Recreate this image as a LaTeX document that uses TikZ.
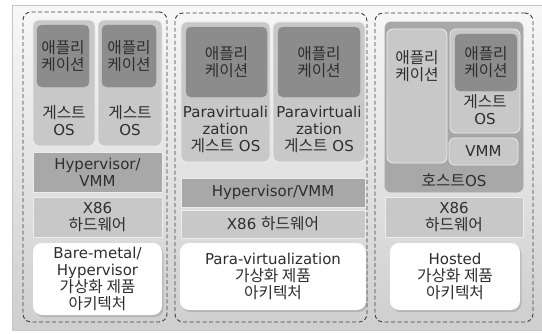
\documentclass[tikz,border=0pt]{standalone}
\usepackage{fontspec}
\setmainfont{DejaVu Sans}
\newfontfamily\kr[Scale=1.05]{Noto Sans CJK KR}
\usetikzlibrary{shadows}
\definecolor{appgray}{HTML}{8C8C8C}
\definecolor{lightgray}{HTML}{C8C8C8}
\definecolor{midgray}{HTML}{A8A8A8}
\definecolor{inkgray}{HTML}{2E2E2E}
\tikzstyle{txt} = [inner sep=0pt, align=center, text=inkgray, font=\fontsize{15}{17}\selectfont]
\tikzstyle{group} = [rectangle, rounded corners=8pt, draw=black!75, dashed, line width=0.9pt, dash pattern=on 4pt off 2.5pt]
\tikzstyle{guest} = [rectangle, rounded corners=6pt, draw=white!85!gray, line width=0.8pt, fill=lightgray, inner sep=0pt]
\tikzstyle{app} = [rectangle, rounded corners=5pt, draw=appgray, fill=appgray, inner sep=0pt, txt]
\tikzstyle{layer} = [rectangle, draw=white!85!gray, line width=0.8pt, inner sep=0pt, txt]
\tikzstyle{caption} = [rectangle, rounded corners=9pt, fill=white, inner sep=0pt, txt, drop shadow={shadow xshift=1.5pt, shadow yshift=-2pt, opacity=0.35}]

\begin{document}
\begin{tikzpicture}[x=1pt,y=-1pt]
        \useasboundingbox (0,0) rectangle (542,333);
        \fill[white] (0,0) rectangle (542,333);
        \draw[draw=gray!45, top color=gray!6, bottom color=gray!38] (12,5) rectangle (542,330);

        % bare-metal
        \node (groupL) [group, minimum width=144pt, minimum height=310pt] at (95,167) {};
        \node (guestL1) [guest, minimum width=62pt, minimum height=126pt] at (64,83) {};
        \node (guestL2) [guest, minimum width=64pt, minimum height=126pt] at (130,83) {};
        \node (appL1) [app, minimum width=52pt, minimum height=62pt] at (63,56) {\kr 애플리\\\kr 케이션};
        \node (appL2) [app, minimum width=54pt, minimum height=62pt] at (129,56) {\kr 애플리\\\kr 케이션};
        \node (osL1) [txt] at (64,121) {\kr 게스트\\OS};
        \node (osL2) [txt] at (130,121) {\kr 게스트\\OS};
        \node (hyperL) [layer, fill=midgray, minimum width=129pt, minimum height=40pt] at (97.5,172) {Hypervisor/\\VMM};
        \node (hwL) [layer, fill=lightgray, minimum width=129pt, minimum height=40pt] at (97.5,217) {X86\\\kr 하드웨어};
        \node (capL) [caption, minimum width=129pt, minimum height=72pt] at (97.5,279) {Bare-metal/\\Hypervisor\\\kr 가상화 제품\\\kr 아키텍처};

        % para-virtualization
        \node (groupM) [group, minimum width=192pt, minimum height=309pt] at (271,167.5) {};
        \node (guestM1) [guest, minimum width=89pt, minimum height=140pt] at (225.5,92) {};
        \node (guestM2) [guest, minimum width=92pt, minimum height=140pt] at (319,92) {};
        \node (appM1) [app, minimum width=81pt, minimum height=70pt] at (226.5,62) {\kr 애플리\\\kr 케이션};
        \node (appM2) [app, minimum width=82pt, minimum height=70pt] at (319,62) {\kr 애플리\\\kr 케이션};
        \node (osM1) [txt] at (225.5,129) {Paravirtuali\\zation\\{\kr 게스트} OS};
        \node (osM2) [txt] at (319,129) {Paravirtuali\\zation\\{\kr 게스트} OS};
        \node (hyperM) [layer, fill=midgray, minimum width=184pt, minimum height=29pt] at (273,192.5) {Hypervisor/VMM};
        \node (hwM) [layer, fill=lightgray, minimum width=184pt, minimum height=28pt] at (273,224) {X86 {\kr 하드웨어}};
        \node (capM) [caption, minimum width=186pt, minimum height=67pt] at (273,276.5) {Para-virtualization\\\kr 가상화 제품\\\kr 아키텍처};

        % hosted
        \node (groupR) [group, minimum width=158pt, minimum height=309pt] at (454,167.5) {};
        \node (hostR) [layer, fill=midgray, draw=midgray, rounded corners=6pt, minimum width=138pt, minimum height=170pt] at (454,107) {};
        \node (appR) [guest, minimum width=60pt, minimum height=134pt] at (417,96) {};
        \node (appRtxt) [txt] at (417,66) {\kr 애플리\\\kr 케이션};
        \node (guestR) [guest, minimum width=70pt, minimum height=104pt] at (485,81) {};
        \node (appR2) [app, minimum width=62pt, minimum height=57pt] at (486,62.5) {\kr 애플리\\\kr 케이션};
        \node (osR) [txt] at (485,110) {\kr 게스트\\OS};
        \node (vmmR) [guest, minimum width=69pt, minimum height=27pt, txt] at (483.5,151.5) {VMM};
        \node (hostRtxt) [txt] at (454,180) {{\kr 호스트}OS};
        \node (hwR) [layer, fill=lightgray, minimum width=138pt, minimum height=40pt] at (454,217) {X86\\\kr 하드웨어};
        \node (capR) [caption, minimum width=130pt, minimum height=67pt] at (455,276.5) {Hosted\\\kr 가상화 제품\\\kr 아키텍처};
    \end{tikzpicture}
\end{document}
